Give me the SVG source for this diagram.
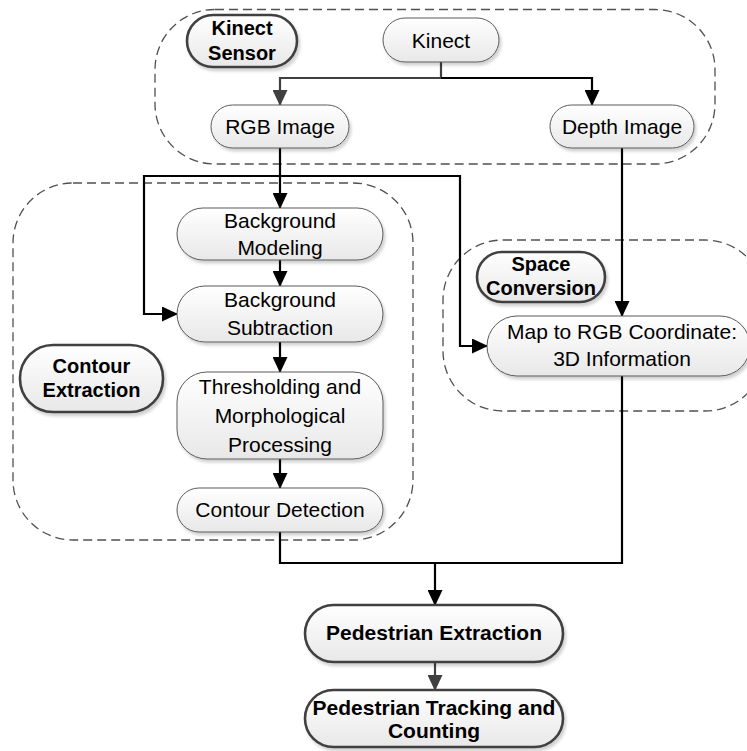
<svg xmlns="http://www.w3.org/2000/svg" width="747" height="751" viewBox="0 0 747 751">
<defs>
<linearGradient id="g" x1="0" y1="0" x2="0" y2="1">
<stop offset="0" stop-color="#ffffff"/>
<stop offset="1" stop-color="#e8e8e8"/>
</linearGradient>
<filter id="sh" x="-10%" y="-10%" width="130%" height="140%">
<feDropShadow dx="2" dy="3" stdDeviation="1.5" flood-color="#000" flood-opacity="0.18"/>
</filter>
<marker id="ab" viewBox="0 0 16 15" refX="15" refY="7.5" markerWidth="16" markerHeight="15" markerUnits="userSpaceOnUse" orient="auto">
<path d="M0,0 L16,7.5 L0,15 Z" fill="#000"/>
</marker>
<marker id="ag" viewBox="0 0 16 15" refX="15" refY="7.5" markerWidth="16" markerHeight="15" markerUnits="userSpaceOnUse" orient="auto">
<path d="M0,0 L16,7.5 L0,15 Z" fill="#404040"/>
</marker>
<style>
.grp{fill:none;stroke:#505050;stroke-width:1.3;stroke-dasharray:9 5}
.n{fill:url(#g);stroke:#5a5a5a;stroke-width:1;filter:url(#sh)}
.lb{fill:url(#g);stroke:#404040;stroke-width:2.6;filter:url(#sh)}
.t{font-family:"Liberation Sans",Arial,sans-serif;font-size:21px;fill:#000;text-anchor:middle}
.b{font-family:"Liberation Sans",Arial,sans-serif;font-size:20px;font-weight:bold;fill:#000;text-anchor:middle}
.pb{font-family:"Liberation Sans",Arial,sans-serif;font-size:21px;font-weight:bold;fill:#000;text-anchor:middle}
.c{fill:none;stroke:#000;stroke-width:2.2}
.cg{fill:none;stroke:#404040;stroke-width:2.2}
</style>
</defs>
<g id="groups">
<rect class="grp" x="155" y="9.5" width="560" height="154.5" rx="60"/>
<rect class="grp" x="13" y="183" width="400" height="357" rx="60"/>
<rect class="grp" x="443" y="240" width="322" height="171" rx="60"/>
</g>
<g id="connectors">
<path class="cg" d="M441,62 V78 H280 V105" marker-end="url(#ag)"/>
<path class="c" d="M441,78 H592 V105" marker-end="url(#ab)"/>
<path class="c" d="M280,148 V208" marker-end="url(#ab)"/>
<path class="c" d="M280,176 H144 V314 H177" marker-end="url(#ab)"/>
<path class="c" d="M280,176 H460 V346 H487" marker-end="url(#ab)"/>
<path class="c" d="M280,260 V286" marker-end="url(#ab)"/>
<path class="c" d="M280,342 V372" marker-end="url(#ab)"/>
<path class="c" d="M280,459 V488" marker-end="url(#ab)"/>
<path class="c" d="M622,148 V316" marker-end="url(#ab)"/>
<path class="c" d="M280,532 V563 H435 V605" marker-end="url(#ab)"/>
<path class="c" d="M622,376 V563 H435"/>
<path class="cg" d="M435,662 V690" marker-end="url(#ag)"/>
</g>
<g id="kinect-sensor-label">
<rect class="lb" x="187" y="15" width="110" height="52" rx="26"/>
<text class="b" x="242" y="35">Kinect</text>
<text class="b" x="242" y="60">Sensor</text>
</g>
<g id="kinect">
<rect class="n" x="383" y="18" width="116" height="44" rx="22"/>
<text class="t" x="441" y="47.5">Kinect</text>
</g>
<g id="rgb-image">
<rect class="n" x="211" y="105" width="138" height="43" rx="21.5"/>
<text class="t" x="280" y="134">RGB Image</text>
</g>
<g id="depth-image">
<rect class="n" x="550" y="105" width="144" height="43" rx="21.5"/>
<text class="t" x="622" y="134">Depth Image</text>
</g>
<g id="contour-extraction-label">
<rect class="lb" x="20" y="345" width="143" height="67" rx="33"/>
<text class="b" x="91.5" y="373">Contour</text>
<text class="b" x="91.5" y="397">Extraction</text>
</g>
<g id="background-modeling">
<rect class="n" x="177" y="208" width="206" height="52" rx="26"/>
<text class="t" x="280" y="228">Background</text>
<text class="t" x="280" y="255">Modeling</text>
</g>
<g id="background-subtraction">
<rect class="n" x="177" y="286" width="206" height="56" rx="28"/>
<text class="t" x="280" y="307">Background</text>
<text class="t" x="280" y="335">Subtraction</text>
</g>
<g id="thresholding">
<rect class="n" x="177" y="372" width="206" height="87" rx="30"/>
<text class="t" x="280" y="394">Thresholding and</text>
<text class="t" x="280" y="423">Morphological</text>
<text class="t" x="280" y="452">Processing</text>
</g>
<g id="contour-detection">
<rect class="n" x="177" y="488" width="206" height="44" rx="22"/>
<text class="t" x="280" y="517">Contour Detection</text>
</g>
<g id="space-conversion-label">
<rect class="lb" x="477" y="252" width="128" height="50" rx="25"/>
<text class="b" x="541" y="271">Space</text>
<text class="b" x="541" y="295">Conversion</text>
</g>
<g id="map-to-rgb">
<rect class="n" x="487" y="316" width="263" height="60" rx="30"/>
<text class="t" x="622" y="339">Map to RGB Coordinate:</text>
<text class="t" x="622" y="366">3D Information</text>
</g>
<g id="pedestrian-extraction">
<rect class="lb" x="305" y="605" width="258" height="57" rx="28.5"/>
<text class="pb" x="434" y="640">Pedestrian Extraction</text>
</g>
<g id="pedestrian-tracking">
<rect class="lb" x="305" y="690" width="258" height="57" rx="28.5"/>
<text class="pb" x="434" y="715">Pedestrian Tracking and</text>
<text class="pb" x="434" y="738">Counting</text>
</g>
</svg>
